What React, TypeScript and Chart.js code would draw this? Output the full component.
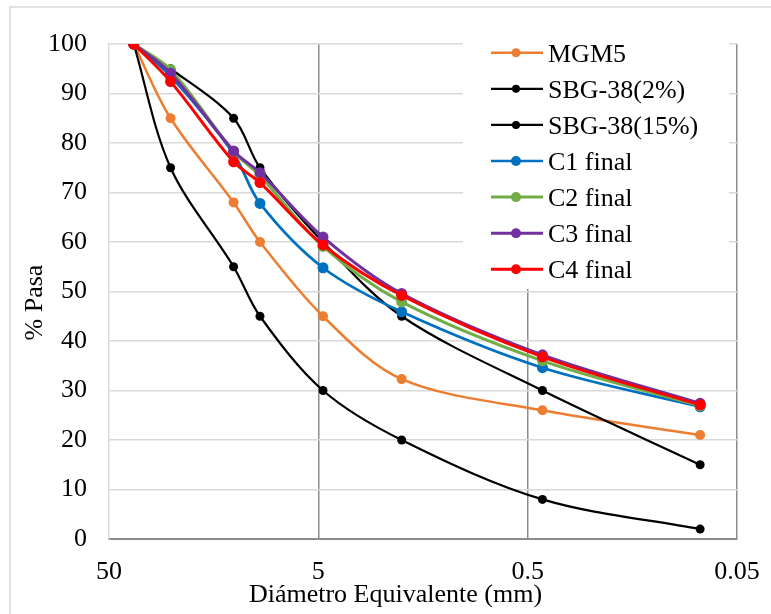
import React, { useEffect, useRef } from "react";
import { Chart, registerables } from "chart.js";

Chart.register(...registerables);

// Sieve sizes (mm)
const sizes = [38.1, 25.4, 12.7, 9.5, 4.75, 2.0, 0.425, 0.075];

const seriesNames = ["MGM5", "SBG-38(2%)", "SBG-38(15%)", "C1 final", "C2 final", "C3 final", "C4 final"];
const mgm5 = [100, 85, 68, 60, 45, 32.3, 26, 21];
const sbg2 = [100, 75, 55, 45, 30, 20, 8, 2];
const sbg15 = [100, 95, 85, 75, 60, 45, 30, 15];
const c1 = [100, 93.5, 77.8, 67.8, 54.8, 45.9, 34.6, 26.7];
const c2 = [100, 94.8, 78.3, 73.4, 59.1, 47.9, 36.0, 26.9];
const c3 = [100, 94.1, 78.4, 74.0, 61.0, 49.6, 37.2, 27.4];
const c4 = [100, 92.4, 76.2, 72.0, 59.4, 49.2, 36.8, 27.1];

const seriesColors = ["#ED7D31", "#000000", "#000000", "#0070C0", "#70AD47", "#7030A0", "#FF0000"];
const seriesLineWidths = [2.5, 2.2, 2.2, 2.7, 3, 3, 3];
const seriesRadius = [5, 4.5, 4.5, 5.5, 5.5, 5.5, 5.5];

const xTickValues = [50, 5, 0.5, 0.05];
const xTickLabels = ["50", "5", "0.5", "0.05"];
const yTickValues = [0, 10, 20, 30, 40, 50, 60, 70, 80, 90, 100];

const xTitle = "Diámetro Equivalente (mm)";
const yTitle = "% Pasa";

const FONT = '"Liberation Serif", "Times New Roman", serif';

export default function App() {
  const canvasRef = useRef<HTMLCanvasElement | null>(null);

  useEffect(() => {
    const canvas = canvasRef.current;
    if (!canvas) return;
    const allSeries = [mgm5, sbg2, sbg15, c1, c2, c3, c4];
    const n = allSeries.length;

    const decor = {
      id: "decor",
      beforeDraw(chart: any) {
        const ctx = chart.ctx;
        ctx.save();
        ctx.fillStyle = "#ffffff";
        ctx.fillRect(0, 0, chart.width, chart.height);
        ctx.strokeStyle = "#d9d9d9";
        ctx.lineWidth = 1.5;
        ctx.strokeRect(10, 7, 800, 700);
        ctx.restore();
      },
      beforeDatasetsDraw(chart: any) {
        const ctx = chart.ctx;
        ctx.save();
        // legend box
        ctx.fillStyle = "#ffffff";
        ctx.fillRect(463, 30, 266, 259);
        ctx.font = "26px " + FONT;
        ctx.textBaseline = "alphabetic";
        ctx.textAlign = "left";
        for (let i = 0; i < n; i++) {
          const y = 52.7 + i * 36.1;
          ctx.strokeStyle = seriesColors[i];
          ctx.lineWidth = seriesLineWidths[i];
          ctx.beginPath();
          ctx.moveTo(491, y);
          ctx.lineTo(543, y);
          ctx.stroke();
          ctx.fillStyle = seriesColors[i];
          ctx.beginPath();
          ctx.arc(516, y, seriesRadius[i] - 0.5, 0, Math.PI * 2);
          ctx.fill();
          ctx.fillStyle = "#000000";
          ctx.fillText(seriesNames[i], 548, y + 8.8);
        }
        // axis titles
        ctx.fillStyle = "#000000";
        ctx.textAlign = "center";
        ctx.fillText(xTitle, 395.5, 602);
        ctx.translate(42, 302.5);
        ctx.rotate(-Math.PI / 2);
        ctx.fillText(yTitle, 0, 0);
        ctx.restore();
      },
    };

    const chart = new Chart(canvas, {
      type: "line",
      data: {
        datasets: allSeries.map((vals, i) => ({
          label: seriesNames[i],
          data: sizes.map((s, j) => ({ x: s, y: vals[j] })),
          borderColor: seriesColors[i],
          backgroundColor: seriesColors[i],
          pointBackgroundColor: seriesColors[i],
          pointBorderColor: seriesColors[i],
          pointBorderWidth: 0,
          pointRadius: seriesRadius[i],
          borderWidth: seriesLineWidths[i],
          tension: 0.33,
          fill: false,
          order: n - i,
        })),
      },
      options: {
        responsive: false,
        animation: false,
        events: [],
        layout: { padding: { left: 0, right: 34, top: 44, bottom: 0 } },
        plugins: {
          legend: { display: false },
          tooltip: { enabled: false },
          title: { display: false },
        },
        scales: {
          x: {
            type: "logarithmic",
            min: 0.05,
            max: 50,
            reverse: true,
            afterBuildTicks: (s: any) => {
              s.ticks = xTickValues.map((v) => ({ value: v }));
            },
            afterFit: (s: any) => {
              s.height = 75;
              s.paddingLeft = 0;
              s.paddingRight = 0;
            },
            ticks: {
              autoSkip: false,
              maxRotation: 0,
              padding: 18,
              color: "#000000",
              font: { family: FONT, size: 26 },
              callback: (_v: any, idx: number) => xTickLabels[idx],
            },
            grid: {
              drawTicks: false,
              lineWidth: 1.5,
              color: (ctx: any) => (ctx.tick && ctx.tick.value === 50 ? "rgba(0,0,0,0)" : "#8c8c8c"),
            },
            border: { color: "#8c8c8c", width: 2 },
          },
          y: {
            type: "linear",
            min: 0,
            max: 100,
            afterBuildTicks: (s: any) => {
              s.ticks = yTickValues.map((v) => ({ value: v }));
            },
            afterFit: (s: any) => {
              s.width = 109;
              s.paddingTop = 0;
              s.paddingBottom = 0;
            },
            ticks: {
              padding: 22,
              color: "#000000",
              font: { family: FONT, size: 26 },
              callback: (v: any) => String(v),
            },
            grid: {
              drawTicks: false,
              lineWidth: 1.5,
              color: (ctx: any) => (ctx.tick && ctx.tick.value === 0 ? "rgba(0,0,0,0)" : "#d9d9d9"),
            },
            border: { color: "#d9d9d9", width: 1.5 },
          },
        },
      },
      plugins: [decor],
    } as any);

    return () => chart.destroy();
  }, []);

  return (
    <div style={{ position: "fixed", left: 0, top: 0, width: 771, height: 614, background: "#fff" }}>
      <canvas ref={canvasRef} width={771} height={614} style={{ display: "block", width: 771, height: 614 }} />
    </div>
  );
}
